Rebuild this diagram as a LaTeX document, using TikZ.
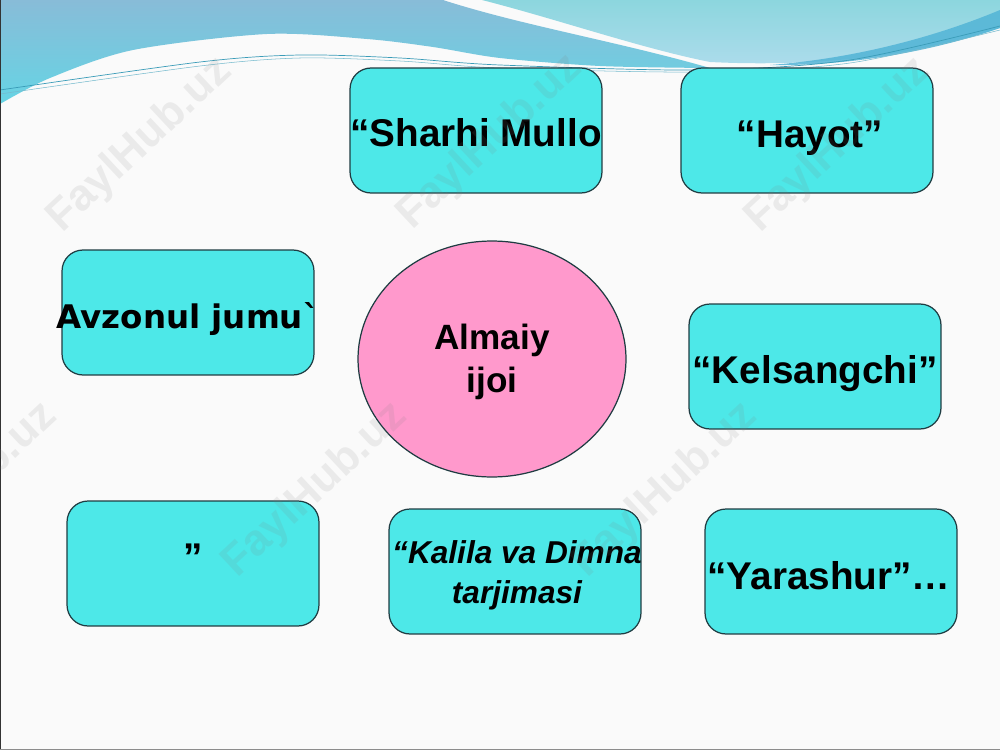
\documentclass[tikz,border=0pt]{standalone}
\usepackage{fontspec}
\setmainfont{Liberation Sans}
\newfontfamily\avz{DejaVu Sans}[Ligatures=TeXOff]
\usetikzlibrary{shapes.geometric}
\definecolor{boxcyan}{HTML}{4DE8E8}
\definecolor{pinkfill}{HTML}{FF99CC}
\definecolor{edgecol}{HTML}{1F3C42}
\definecolor{bgcol}{HTML}{FAFAFA}
\definecolor{bluetop}{HTML}{88BCD8}
\definecolor{bluelow}{HTML}{66D4E4}
\definecolor{lighttop}{HTML}{8CD6DE}
\definecolor{lightlow}{HTML}{AEDCEC}
\definecolor{streak}{HTML}{52B4D6}
\definecolor{thinline}{HTML}{3A9CB8}
\tikzset{
  boxst/.style={draw=edgecol, line width=0.7pt, fill=boxcyan, rounded corners=0.42cm,
    minimum width=5.04cm, minimum height=2.5cm, inner sep=0pt},
  txt/.style={inner sep=0pt, font=\bfseries\fontsize{22}{26}\selectfont},
  ktxt/.style={inner sep=0pt, align=center, font=\bfseries\itshape\fontsize{18}{22.7}\selectfont},
  ctxt/.style={inner sep=0pt, align=center, font=\bfseries\fontsize{20}{24.4}\selectfont},
  wm/.style={inner sep=0pt, text=gray, opacity=0.13, rotate=43, font=\bfseries\fontsize{25}{30}\selectfont}
}
\begin{document}
\begin{tikzpicture}[x=0.02cm, y=-0.02cm]
\useasboundingbox (0,0) rectangle (1000,750);
% background
\fill[bgcol] (0,0) rectangle (1000,750);
% left blue wave
\shade[top color=bluetop, bottom color=bluelow]
  (0,0) -- (443,0) .. controls (520,25) and (620,42) .. (710,68)
  -- plot[smooth] coordinates {(710,68) (600,66) (500,58) (433,47) (367,39) (267,34) (133,50) (50,78) (0,104)}
  -- cycle;
% right light wave
\shade[top color=lighttop, bottom color=lightlow]
  (482,0) -- (1000,0) -- (1000,28)
  .. controls (930,52) and (830,68) .. (710,62)
  .. controls (640,48) and (560,20) .. (482,0) -- cycle;
% darker streak at right
\fill[streak, opacity=0.85]
  (770,65) .. controls (860,58) and (940,35) .. (1000,10) -- (1000,28)
  .. controls (930,52) and (850,66) .. (770,65) -- cycle;
% thin lines
\draw[thinline, line width=0.4pt] plot[smooth] coordinates {(0,90) (200,62) (300,55) (400,58) (500,65) (700,70) (850,60) (1000,26)};
\draw[thinline!70, line width=0.3pt] plot[smooth] coordinates {(0,94) (200,66) (300,58) (400,61) (500,68) (700,72) (850,63) (1000,30)};
% frame
\draw[black!80, line width=1.2pt] (0,0) -- (0,750);
\draw[black!45, line width=1pt] (0,749.5) -- (1000,749.5);

% boxes
\node[boxst] (sharhi) at (476,130.5) {};
\node[boxst] (hayot) at (807,130.5) {};
\node[boxst] (avzon) at (188,312.5) {};
\node[boxst] (kels) at (815,366.5) {};
\node[boxst] (quot) at (193,563.5) {};
\node[boxst] (kalila) at (515,571.5) {};
\node[boxst] (yara) at (831,571.5) {};
\node[ellipse, draw=edgecol, line width=0.7pt, fill=pinkfill, minimum width=5.36cm, minimum height=4.72cm, inner sep=0pt] (center) at (492,359) {};

% texts
\node[txt] (sharhiT) at ([yshift=-0.05cm]sharhi.center) {“Sharhi Mullo};
\node[txt] (hayotT) at ([xshift=0.06cm,yshift=-0.15cm]hayot.center) {“Hayot”};
\node[inner sep=0pt, font=\avz\bfseries\fontsize{18.5}{22}\selectfont] (avzonT) at ([yshift=-0.14cm]avzon.center) {Avzonul jumu`};
\node[txt] (kelsT) at ([yshift=-0.14cm]kels.center) {“Kelsangchi”};
\node[txt] (quotT) at (193,557) {”};
\node[ktxt] (kalilaT) at ([xshift=0.04cm,yshift=-0.08cm]kalila.center) {“Kalila va Dimna\\tarjimasi};
\node[txt] (yaraT) at ([xshift=-0.04cm,yshift=-0.08cm]yara.center) {“Yarashur”…};
\node[ctxt] (centerT) at ([yshift=-0.06cm]center.center) {Almaiy\\ijoi};

% watermarks
\node[wm] (w1) at (140,145) {FaylHub.uz};
\node[wm] (w2) at (490,142) {FaylHub.uz};
\node[wm] (w3) at (838,145) {FaylHub.uz};
\node[wm] (w4) at (-35,490) {FaylHub.uz};
\node[wm] (w5) at (315,490) {FaylHub.uz};
\node[wm] (w6) at (665,490) {FaylHub.uz};
\end{tikzpicture}
\end{document}
